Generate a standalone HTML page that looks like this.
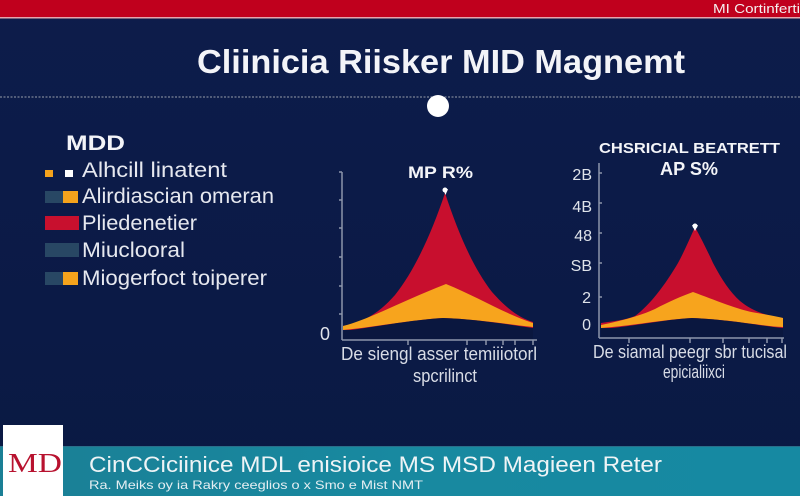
<!DOCTYPE html>
<html><head><meta charset="utf-8"><style>
html,body{margin:0;padding:0;width:800px;height:496px;overflow:hidden;background:#0b1a46;}
svg{display:block;font-family:"Liberation Sans",sans-serif;}
</style></head><body>
<svg width="800" height="496" viewBox="0 0 800 496" xmlns="http://www.w3.org/2000/svg">
<defs>
<linearGradient id="bg" x1="0" y1="0" x2="0" y2="1">
<stop offset="0" stop-color="#0d1c4b"/><stop offset="1" stop-color="#0a1943"/>
</linearGradient>
<linearGradient id="teal" x1="0" y1="0" x2="1" y2="0">
<stop offset="0" stop-color="#1a7f95"/><stop offset="0.5" stop-color="#1889a0"/><stop offset="1" stop-color="#1689a2"/>
</linearGradient>
</defs>
<rect width="800" height="496" fill="url(#bg)"/>
<!-- top bar -->
<rect x="0" y="0" width="800" height="17" fill="#c0001d"/>
<rect x="0" y="17" width="800" height="1.5" fill="#e6a6ae"/>
<text x="713" y="13" font-size="13" fill="#f4f0f0" textLength="87" lengthAdjust="spacingAndGlyphs">MI Cortinferti</text>
<!-- title -->
<text x="197" y="73" font-size="33" font-weight="bold" fill="#f3f4f8" textLength="488" lengthAdjust="spacingAndGlyphs">Cliinicia Riisker MID Magnemt</text>
<line x1="0" y1="97" x2="800" y2="97" stroke="#7d8598" stroke-width="1.2" stroke-dasharray="2 1.5"/>
<circle cx="438" cy="106" r="11" fill="#ffffff"/>
<!-- legend -->
<text x="66" y="150" font-size="21" font-weight="bold" fill="#f3f4f8" textLength="59" lengthAdjust="spacingAndGlyphs">MDD</text>
<rect x="45" y="170" width="8" height="7" fill="#f5a31c"/>
<rect x="65" y="170" width="8" height="7" fill="#ffffff"/>
<text x="82" y="177" font-size="21" fill="#e6e8ef" textLength="145" lengthAdjust="spacingAndGlyphs">Alhcill linatent</text>
<rect x="45" y="191" width="18" height="12" fill="#284764"/>
<rect x="63" y="191" width="15" height="12" fill="#f5a31c"/>
<text x="82" y="203" font-size="21" fill="#e6e8ef" textLength="192" lengthAdjust="spacingAndGlyphs">Alirdiascian omeran</text>
<rect x="45" y="216" width="34" height="14" fill="#c8102e"/>
<text x="82" y="230" font-size="21" fill="#e6e8ef" textLength="115" lengthAdjust="spacingAndGlyphs">Pliedenetier</text>
<rect x="45" y="243" width="34" height="14" fill="#284764"/>
<text x="82" y="257" font-size="21" fill="#e6e8ef" textLength="103" lengthAdjust="spacingAndGlyphs">Miuclooral</text>
<rect x="45" y="272" width="18" height="13" fill="#284764"/>
<rect x="63" y="272" width="15" height="13" fill="#f5a31c"/>
<text x="82" y="285" font-size="21" fill="#e6e8ef" textLength="185" lengthAdjust="spacingAndGlyphs">Miogerfoct toiperer</text>

<!-- chart 1 -->
<text x="408" y="178" font-size="17" font-weight="bold" fill="#f3f4f8" textLength="65" lengthAdjust="spacingAndGlyphs">MP R%</text>
<path d="M343,326 C365,322 380,312 395,295 C415,270 432,232 445,193 C458,232 472,266 492,292 C508,310 520,318 533,322 L533,330 L343,330 Z" fill="#c80f2e"/>
<path d="M343,326 C368,320 400,302 446,284 C476,296 505,314 533,323 L533,327 C505,324 475,319 443,318 C410,320 375,327 343,330 Z" fill="#f7a41d"/>
<path d="M343,331 C375,327 410,320 443,318 C475,319 505,324 533,328 L533,339 L343,339 Z" fill="#0a173f"/>
<path d="M443,189 L448,189 L445.5,195 Z" fill="#ffffff"/>
<circle cx="445" cy="190" r="2.5" fill="#ffffff"/>
<g stroke="#8c95aa" stroke-width="1.5" fill="none">
<line x1="342" y1="172" x2="342" y2="340"/>
<line x1="342" y1="340" x2="537" y2="340"/>
<line x1="339" y1="172" x2="342" y2="172"/><line x1="339" y1="200" x2="342" y2="200"/>
<line x1="339" y1="228" x2="342" y2="228"/><line x1="339" y1="257" x2="342" y2="257"/>
<line x1="339" y1="286" x2="342" y2="286"/><line x1="339" y1="314" x2="342" y2="314"/>
<line x1="408" y1="340" x2="408" y2="345"/><line x1="467" y1="340" x2="467" y2="345"/>
<line x1="486" y1="340" x2="486" y2="345"/><line x1="503" y1="340" x2="503" y2="345"/>
<line x1="515" y1="340" x2="515" y2="345"/><line x1="533" y1="340" x2="533" y2="345"/>
</g>
<text x="320" y="340" font-size="18" fill="#e0e3ea" textLength="10" lengthAdjust="spacingAndGlyphs">0</text>
<text x="341" y="360" font-size="18" fill="#d8dce6" textLength="196" lengthAdjust="spacingAndGlyphs">De siengl asser temiiiotorl</text>
<text x="413" y="382" font-size="18" fill="#d8dce6" textLength="64" lengthAdjust="spacingAndGlyphs">spcrilinct</text>

<!-- chart 2 -->
<text x="599" y="153" font-size="15" font-weight="bold" fill="#f3f4f8" textLength="181" lengthAdjust="spacingAndGlyphs">CHSRICIAL BEATRETT</text>
<text x="660" y="175" font-size="18" font-weight="bold" fill="#f3f4f8" textLength="58" lengthAdjust="spacingAndGlyphs">AP S%</text>
<path d="M601,323 C615,321 625,320 635,316 C650,305 665,285 678,263 C685,250 690,238 695,227 C702,240 708,252 713,263 C722,280 730,292 740,301 C752,311 767,316 783,318 L783,328 L601,328 Z" fill="#c80f2e"/>
<path d="M601,325 C620,321 640,316 655,309 C668,302 682,296 693,292 C715,300 738,310 757,313 C768,315 775,316 783,318 L783,327 C760,326 735,320 692,318 C660,320 630,326 601,328 Z" fill="#f7a41d"/>
<path d="M601,329 C630,327 660,320 692,318 C735,320 760,326 783,328 L783,337 L601,337 Z" fill="#0a173f"/>
<path d="M692,225 L698,225 L695,231 Z" fill="#ffffff"/>
<circle cx="695" cy="226" r="2.5" fill="#ffffff"/>
<g stroke="#8c95aa" stroke-width="1.5" fill="none">
<line x1="599" y1="163" x2="599" y2="338"/>
<line x1="599" y1="338" x2="784" y2="338"/>
<line x1="599" y1="173" x2="602" y2="173"/><line x1="599" y1="203" x2="602" y2="203"/>
<line x1="599" y1="233" x2="602" y2="233"/><line x1="599" y1="263" x2="602" y2="263"/>
<line x1="599" y1="297" x2="602" y2="297"/>
<line x1="629" y1="338" x2="629" y2="343"/><line x1="690" y1="338" x2="690" y2="343"/>
<line x1="723" y1="338" x2="723" y2="343"/><line x1="749" y1="338" x2="749" y2="343"/>
<line x1="767" y1="338" x2="767" y2="343"/><line x1="782" y1="338" x2="782" y2="343"/>
</g>
<g font-size="16" fill="#dfe3ea" text-anchor="end">
<text x="592" y="180">2B</text>
<text x="592" y="212">4B</text>
<text x="592" y="241">48</text>
<text x="592" y="271">SB</text>
<text x="591" y="303">2</text>
<text x="591" y="330">0</text>
</g>
<text x="593" y="358" font-size="18" fill="#d8dce6" textLength="194" lengthAdjust="spacingAndGlyphs">De siamal peegr sbr tucisal</text>
<text x="663" y="378" font-size="18" fill="#d8dce6" textLength="62" lengthAdjust="spacingAndGlyphs">epicialiixci</text>

<!-- footer -->
<rect x="0" y="446" width="800" height="50" fill="url(#teal)"/>
<rect x="0" y="446" width="800" height="1" fill="#2a6f8a"/>
<rect x="3" y="425" width="60" height="71" fill="#ffffff"/>
<text x="8" y="472" font-size="27" fill="#b8122f" font-family="Liberation Serif,serif" textLength="54" lengthAdjust="spacingAndGlyphs">MD</text>
<text x="89" y="472" font-size="22" fill="#eef4f6" textLength="573" lengthAdjust="spacingAndGlyphs">CinCCiciinice MDL enisioice MS MSD Magieen Reter</text>
<text x="89" y="489" font-size="12" fill="#e4eef2" textLength="334" lengthAdjust="spacingAndGlyphs">Ra. Meiks oy ia Rakry ceeglios o x Smo e Mist NMT</text>
</svg>
</body></html>
